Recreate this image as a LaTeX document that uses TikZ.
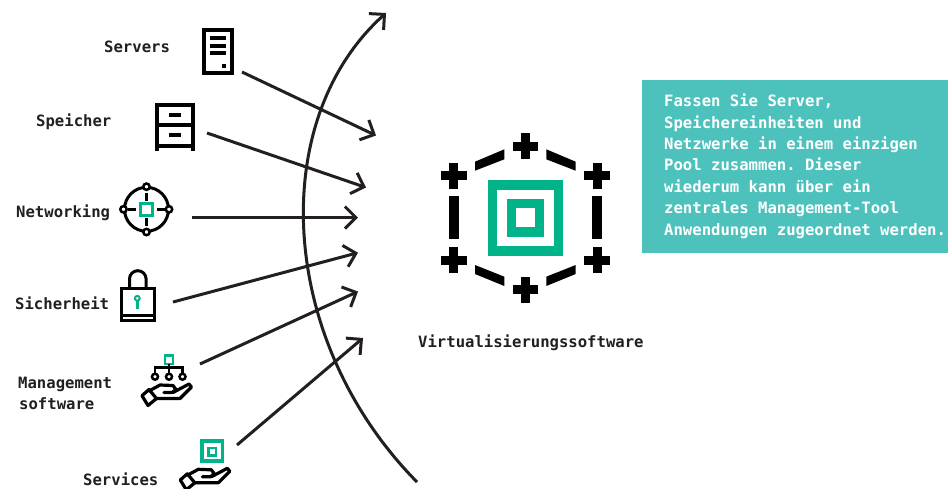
\documentclass[tikz,border=0pt]{standalone}
\usepackage{fontspec}
\setmonofont{DejaVu Sans Mono}
\usetikzlibrary{arrows.meta}
\definecolor{hpegreen}{HTML}{00B388}
\definecolor{poolteal}{HTML}{4DC1BC}
\definecolor{inkblack}{HTML}{231F20}
\tikzset{
    caption/.style={anchor=base west, inner sep=0, yshift=-1pt, text=inkblack, font=\ttfamily\bfseries\fontsize{15.6}{21.4}\selectfont},
    flow/.style={draw=inkblack, line width=3pt, -{Straight Barb[length=11pt, width=22pt, line width=3pt]}},
    icon/.style={draw=black, line width=3pt},
    hand/.pic={
        \draw[icon, line width=3.2pt, line join=round] (142,395.7) -- (149,389.5) -- (156.5,398.5) -- (148,405.5) -- cycle;
        \draw[icon, line width=3.2pt, line join=round, line cap=round] (149,391) -- (160,385) -- (173,385.5) -- (176,389.5) -- (172,392.5) -- (164,392.5)
            (173,392.5) -- (189,384) -- (191.5,387) -- (180,398.5) -- (156.5,398.5);
    },
}
\begin{document}
\begin{tikzpicture}[x=1pt, y=-1pt]
        \useasboundingbox (0,0) rectangle (948,488);
        % labels
        \node[caption] (servers) at (104,51.7) {Servers};
        \node[caption] (storage) at (36,125.7) {Speicher};
        \node[caption] (network) at (16,216.7) {Networking};
        \node[caption] (security) at (15,308.3) {Sicherheit};
        \node[caption] (mgmt) at (18,387.7) {Management};
        \node[caption] (mgmtb) at (19,408) {software};
        \node[caption] (services) at (83,484) {Services};
        \node[caption] (virt) at (418,346.7) {Virtualisierungssoftware};
        % text box
        \node[fill=poolteal, minimum width=306pt, minimum height=173pt, inner sep=0, anchor=north west] (pool) at (642,80) {};
        \foreach \n/\t [count=\i from 0] in {a/{Fassen Sie Server,},b/{Speichereinheiten und},c/{Netzwerke in einem einzigen},
            d/{Pool zusammen. Dieser},e/{wiederum kann über ein},f/{zentrales Management-Tool},g/{Anwendungen zugeordnet werden.}} {
            \node[caption, text=white] (pool\n) at (664,105.7+21.4*\i) {\t};
        }
        % server
        \draw[icon, line width=4pt] (204,30) rectangle (231.5,73);
        \foreach \y in {37.7,45.7,53.3} {
            \draw[icon, line width=4pt] (210,\y) -- (225.7,\y);
        }
        \fill (222,64) rectangle (226,68);
        % storage
        \draw[icon, line width=4pt] (157.3,150.7) -- (157.3,105.3) -- (193,105.3) -- (193,150.7)
            (157.3,125.3) -- (193,125.3) (157.3,145.5) -- (193,145.5);
        \foreach \y in {115.3,135} {
            \draw[icon, line width=4pt] (169.3,\y) -- (181,\y);
        }
        % network
        \draw[icon] (146.5,209.3) circle (22);
        \foreach \x/\y in {146.5/186.7,146.5/232,123.5/209.3,169/209.3} {
            \draw[icon, line width=2.5pt, fill=white] (\x,\y) circle (3.2);
        }
        \draw[icon, line width=2.5pt] (146.5,193) -- (146.5,201) (146.5,218) -- (146.5,226)
            (128,209.3) -- (136,209.3) (157,209.3) -- (165,209.3);
        \draw[icon, draw=hpegreen] (140.8,203.5) rectangle (152.5,215.2);
        % lock
        \draw[icon] (121.5,288) rectangle (154,320.5) (121.5,315) -- (154,315);
        \draw[icon] (129.5,288) -- (129.5,279) arc (180:360:8.3) -- (146.1,288);
        \draw[icon, draw=hpegreen, line width=2pt] (137.3,298.3) circle (2.4);
        \draw[icon, draw=hpegreen, line width=2.5pt] (137.3,301) -- (137.3,308.5);
        % management
        \draw[icon, draw=hpegreen, line width=2.5pt] (164.8,355.5) rectangle (173.2,364);
        \draw[icon, line width=2.5pt] (169,364) -- (169,373.5) (155,373.5) -- (155,367.7) -- (182.5,367.7) -- (182.5,373.5);
        \foreach \x in {155,169,182.5} {
            \draw[icon, line width=2.5pt] (\x,376.7) circle (3);
        }
        \pic (mgmthand) at (0,0) {hand};
        % services
        \draw[icon, draw=hpegreen, line width=3.5pt] (202,441) rectangle (222.5,461);
        \draw[icon, draw=hpegreen, line width=2.5pt] (208.5,448) rectangle (216,455.5);
        \pic (srvhand) at (38.3,84.3) {hand};
        % central
        \draw[hpegreen, line width=9.3pt] (492.7,185) rectangle (558.3,251);
        \draw[hpegreen, line width=9.3pt] (511.3,203.7) rectangle (539.7,232);
        \foreach \x/\y in {525.3/146,453.7/175.7,597/175.7,453.7/260,597/260,525.3/289.7} {
            \fill (\x-4.5,\y-12.8) rectangle (\x+4.5,\y+12.8);
            \fill (\x-12.8,\y-4.5) rectangle (\x+12.8,\y+4.5);
        }
        \fill (449,196) rectangle (459,239);
        \fill (592.3,196) rectangle (602,239);
        \fill (475,161.7) -- (504.3,149.3) -- (504.3,159.3) -- (475,170.7) -- cycle;
        \fill (546.3,149.3) -- (575.7,161.7) -- (575.7,170.7) -- (546.3,159.3) -- cycle;
        \fill (475,265) -- (504.3,276.7) -- (504.3,286) -- (475,274) -- cycle;
        \fill (546.3,276.7) -- (575.7,265) -- (575.7,274) -- (546.3,286) -- cycle;
        % arrows
        \foreach \a/\p/\q in {servers/{242,72}/{376,135.5},storage/{207,133}/{366,187.5},network/{192,217.5}/{358,217.5},
            security/{173,302}/{358,252.7},mgmt/{200,364}/{358,291.5},services/{237,445}/{363,338}} {
            \coordinate (\a tail) at (\p);
            \coordinate (\a head) at (\q);
            \draw[flow] (\a tail) -- (\a head);
        }
        \coordinate (bendtail) at (417,482);
        \coordinate (bendhead) at (386,13);
        \draw[flow] (bendtail) .. controls (277,340) and (267,120) .. (bendhead);
\end{tikzpicture}
\end{document}
